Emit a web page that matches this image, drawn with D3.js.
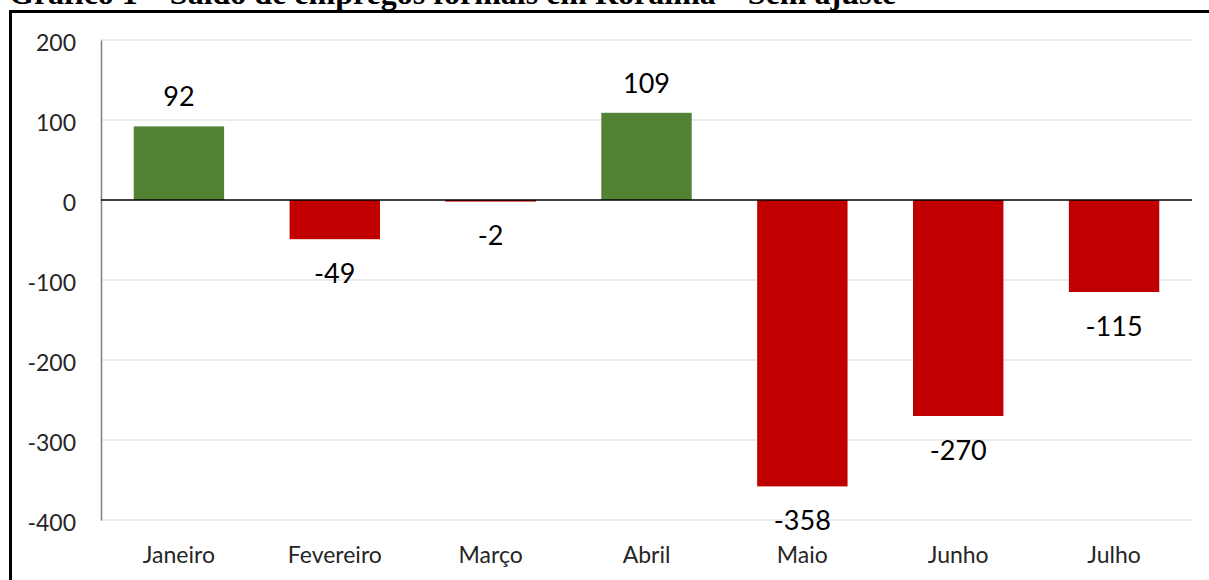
<!DOCTYPE html>
<html>
<head>
<meta charset="utf-8">
<script src="https://cdn.jsdelivr.net/npm/d3@7"></script>
<style>
  body { margin: 0; background: #fff; overflow: hidden; }
  svg { display: block; }
</style>
</head>
<body>
<div id="chart"></div>
<script>
const months = ["Janeiro", "Fevereiro", "Março", "Abril", "Maio", "Junho", "Julho"];
const saldo = [92, -49, -2, 109, -358, -270, -115];
const yTicks = [200, 100, 0, -100, -200, -300, -400];

function init() {
    const w = 1209;
    const h = 580;
    const left = 101, right = 1192, top = 40, bottom = 520;
    const font = "Lato, 'Open Sans', sans-serif";

    const svg = d3.select("#chart")
        .append("svg")
        .attr("width", w)
        .attr("height", h);

    // title, clipped at the top like the original
    svg.append("text")
        .text("Gráfico 1 – Saldo de empregos formais em Roraima – Sem ajuste")
        .attr("x", 9)
        .attr("y", 4)
        .attr("font-family", "'Liberation Serif', 'Times New Roman', serif")
        .attr("font-weight", "bold")
        .attr("font-size", "32px")
        .attr("fill", "#000");

    // outer frame
    svg.append("path")
        .attr("d", `M10.5,${h + 5} V11.5 H${w + 5}`)
        .attr("fill", "none")
        .attr("stroke", "#000")
        .attr("stroke-width", 3);

    const xScale = d3.scaleBand()
        .domain(months)
        .range([left, right])
        .paddingInner(0.42)
        .paddingOuter(0.21);

    const yScale = d3.scaleLinear()
        .domain([-400, 200])
        .range([bottom, top]);

    // grid lines
    svg.selectAll("line.grid")
        .data(yTicks.filter(d => d !== 0))
        .enter()
        .append("line")
        .attr("class", "grid")
        .attr("x1", left)
        .attr("x2", right)
        .attr("y1", d => yScale(d))
        .attr("y2", d => yScale(d))
        .attr("stroke", "#d9d9d9")
        .attr("stroke-width", 1.2);

    // y axis (plain hyphen for negatives, as in the original)
    const yAxis = svg.append("g")
        .attr("transform", `translate(${left},0)`)
        .call(d3.axisLeft(yScale).tickValues(yTicks).tickSize(0).tickPadding(25)
            .tickFormat(d => String(d)));
    yAxis.select(".domain").attr("stroke", "#7f7f7f").attr("stroke-width", 1.5);
    yAxis.selectAll("text")
        .attr("dy", "0.45em")
        .attr("font-family", font)
        .attr("font-size", "23px")
        .attr("fill", "#262626");

    // bars
    svg.selectAll("rect")
        .data(saldo)
        .enter()
        .append("rect")
        .attr("x", (d, i) => xScale(months[i]))
        .attr("y", d => yScale(Math.max(0, d)))
        .attr("width", xScale.bandwidth())
        .attr("height", d => Math.abs(yScale(d) - yScale(0)))
        .attr("fill", d => d >= 0 ? "#548235" : "#c00000");

    // zero line
    svg.append("line")
        .attr("x1", left)
        .attr("x2", right)
        .attr("y1", yScale(0))
        .attr("y2", yScale(0))
        .attr("stroke", "#000")
        .attr("stroke-width", 1.3);

    // values on bars
    svg.selectAll("text.values")
        .data(saldo)
        .enter()
        .append("text")
        .attr("class", "values")
        .text(d => d)
        .attr("x", (d, i) => xScale(months[i]) + xScale.bandwidth() / 2)
        .attr("y", d => d >= 0 ? yScale(d) - 27 : yScale(d) + 37)
        .attr("text-anchor", "middle")
        .attr("dominant-baseline", "middle")
        .attr("font-family", font)
        .attr("font-size", "27px")
        .attr("fill", "#000");

    // month labels
    svg.selectAll("text.labels")
        .data(months)
        .enter()
        .append("text")
        .attr("class", "labels")
        .text(d => d)
        .attr("x", d => xScale(d) + xScale.bandwidth() / 2)
        .attr("y", 557)
        .attr("text-anchor", "middle")
        .attr("dominant-baseline", "middle")
        .attr("font-family", font)
        .attr("font-size", "23px")
        .attr("fill", "#262626");
}

window.onload = init;
</script>
</body>
</html>
